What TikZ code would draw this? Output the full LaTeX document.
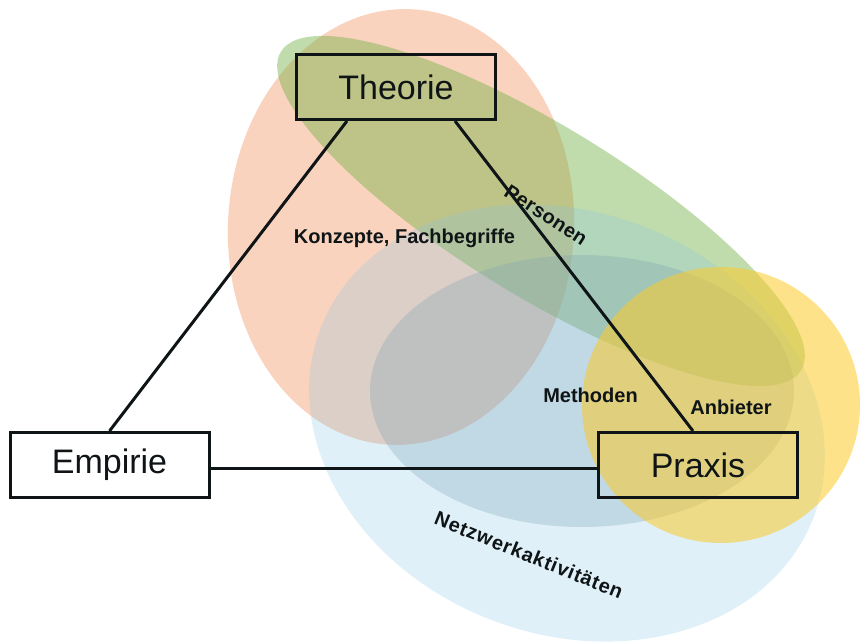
\documentclass[tikz,border=0pt]{standalone}
\usepackage{fontspec}
\setmainfont{Liberation Sans}
\usetikzlibrary{calc}
\definecolor{orng}{RGB}{245,167,125}
\definecolor{grn}{RGB}{118,178,71}
\definecolor{lblue}{RGB}{132,196,232}
\definecolor{gblue}{RGB}{124,163,179}
\definecolor{ylw}{RGB}{251,202,42}
\definecolor{txt}{RGB}{15,20,22}
\begin{document}
\begin{tikzpicture}[x=1pt,y=-1pt,
  box/.style={draw=txt,line width=3pt,minimum width=199pt,minimum height=65pt,inner sep=0pt,font=\fontsize{34}{40}\selectfont,text=txt},
  lbl/.style={font=\bfseries\fontsize{20}{24}\selectfont,text=txt,inner sep=0pt},
  link/.style={line width=3pt,draw=txt}]
\useasboundingbox (0,0) rectangle (860,642);
% overlapping areas
\fill[orng,opacity=0.5,rotate around={-3:(401,227)}] (401,227) ellipse [x radius=173pt,y radius=218pt];
\fill[grn,opacity=0.45,rotate around={-31.5:(541,211)}] (541,211) ellipse [x radius=305pt,y radius=85pt];
\fill[lblue,opacity=0.25,rotate around={-21:(567,423)}] (567,423) ellipse [x radius=264pt,y radius=211pt];
\fill[gblue,opacity=0.3] (582,391) ellipse [x radius=212pt,y radius=136pt];
\fill[ylw,opacity=0.55] (721,405) ellipse [x radius=139pt,y radius=138pt];
% boxes
\node[box] (T) at (396,87) {Theorie};
\node[box] (E) at (109.5,465) {Empirie};
\node[box] (P) at (698,465) {Praxis};
% connectors
\draw[link] ([xshift=-49pt]T.south) -- (E.north);
\draw[link] ([xshift=59pt]T.south) -- ([xshift=-5pt]P.north);
\draw[link] ([yshift=-3pt]E.east) -- ([yshift=-3pt]P.west);
% labels
\node[lbl,anchor=base] (konz) at (404.5,243) {Konzepte, Fachbegriffe};
\node[lbl,rotate=-33] (pers) at (546,215) {\addfontfeatures{LetterSpace=2}Personen};
\node[lbl,anchor=base] (meth) at (590.5,402) {Methoden};
\node[lbl,anchor=base] (anb) at (731,414) {Anbieter};
\node[lbl,rotate=-22] (netz) at (529,555) {\addfontfeatures{LetterSpace=4}Netzwerkaktivitäten};
\end{tikzpicture}
\end{document}
